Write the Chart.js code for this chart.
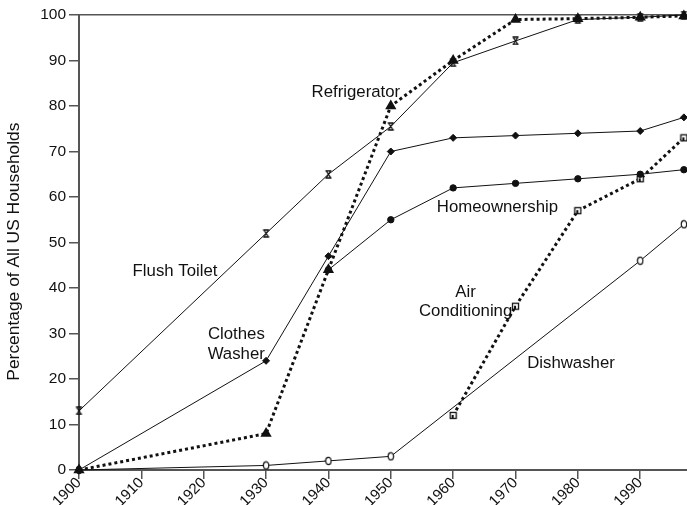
<!DOCTYPE html>
<html><head><meta charset="utf-8">
<script src="https://cdn.jsdelivr.net/npm/chart.js@4.4.0/dist/chart.umd.min.js"></script>
<style>html,body{margin:0;padding:0;background:#fff;}</style>
</head><body>
<canvas id="c" width="687" height="505"></canvas>
<script>
// ---- data ----
const xTickLabels = ['1900','1910','1920','1930','1940','1950','1960','1970','1980','1990'];
const yTitle = 'Percentage of All US Households';

const toiletYears  = [1900,1930,1940,1950,1960,1970,1980,1990,1997];
const toiletValues = [13,52,65,75.5,89.5,94.3,99,99.5,100];

const fridgeYears  = [1900,1930,1940,1950,1960,1970,1980,1990,1997];
const fridgeValues = [0,8,44,80,90,99,99.2,99.5,99.8];

const washerYears  = [1900,1930,1940,1950,1960,1970,1980,1990,1997];
const washerValues = [0,24,47,70,73,73.5,74,74.5,77.5];

const homeYears    = [1940,1950,1960,1970,1980,1990,1997];
const homeValues   = [44,55,62,63,64,65,66];

const acYears      = [1960,1970,1980,1990,1997];
const acValues     = [12,36,57,64,73];

const dishYears    = [1900,1930,1940,1950,1990,1997];
const dishValues   = [0,1,2,3,46,54];

const labelTexts  = ['Refrigerator','Flush Toilet','Clothes','Washer','Homeownership','Air','Conditioning','Dishwasher'];
const labelYears  = [1944.4,1915.4,1929.8,1929.8,1967.1,1962.0,1962.0,1978.9];
const labelValues = [83.1,43.6,29.9,25.5,57.8,39.0,34.9,23.4];
const labelAlign  = ['center','center','right','right','center','center','center','center'];

// ---- marker images ----
const INK = '#111';
const FONT = '"Liberation Sans", Arial, sans-serif';
function mk(w,h,draw){const c=document.createElement('canvas');c.width=w;c.height=h;const g=c.getContext('2d');draw(g);return c;}
const hourglass = mk(9,9,g=>{g.strokeStyle=INK;g.lineWidth=1.3;g.beginPath();
  g.moveTo(1.5,1);g.lineTo(7.5,1);g.moveTo(1.5,8);g.lineTo(7.5,8);
  g.moveTo(2.5,1.5);g.lineTo(6.5,7.5);g.moveTo(6.5,1.5);g.lineTo(2.5,7.5);g.stroke();});
const openSquare = mk(9,9,g=>{g.fillStyle='#fff';g.fillRect(1,1,7,7);g.strokeStyle=INK;g.lineWidth=1.3;g.strokeRect(1.5,1.5,6,6);
  g.fillStyle=INK;g.fillRect(3,4,2,3);});
const openOval = mk(8,10,g=>{g.fillStyle='#fff';g.strokeStyle=INK;g.lineWidth=1.2;g.beginPath();g.ellipse(4,5,2.7,3.6,0,0,Math.PI*2);g.fill();g.stroke();});

function pts(xs,ys){return xs.map((x,i)=>({x:x,y:ys[i]}));}

const solid = {borderColor:INK,borderWidth:1,backgroundColor:INK,pointBorderColor:INK,pointBackgroundColor:INK,clip:false,tension:0};
const dotted = {borderColor:INK,borderWidth:3,borderDash:[3,3],borderCapStyle:'butt',backgroundColor:INK,pointBorderColor:INK,pointBackgroundColor:INK,clip:false,tension:0};

const labelPlugin = {
  id:'labels',
  afterDatasetsDraw(chart){
    const {ctx,scales:{x,y}} = chart;
    ctx.save();
    ctx.font = '16.8px ' + FONT;
    ctx.fillStyle = INK;
    ctx.textBaseline = 'middle';
    labelTexts.forEach((t,i)=>{
      ctx.textAlign = labelAlign[i];
      ctx.fillText(t, x.getPixelForValue(labelYears[i]), y.getPixelForValue(labelValues[i]));
    });
    // y axis title
    ctx.translate(14, y.getPixelForValue(48));
    ctx.rotate(-Math.PI/2);
    ctx.textAlign = 'center';
    ctx.font = '17.4px ' + FONT;
    ctx.fillText(yTitle, 0, 0);
    ctx.restore();
  }
};

new Chart(document.getElementById('c'),{
  type:'line',
  data:{datasets:[
    Object.assign({label:'Flush Toilet',data:pts(toiletYears,toiletValues),pointStyle:hourglass,pointRadius:4},solid),
    Object.assign({label:'Refrigerator',data:pts(fridgeYears,fridgeValues),pointStyle:'triangle',pointRadius:3.5},dotted),
    Object.assign({label:'Clothes Washer',data:pts(washerYears,washerValues),pointStyle:'rectRot',pointRadius:3.5},solid),
    Object.assign({label:'Homeownership',data:pts(homeYears,homeValues),pointStyle:'circle',pointRadius:3.2},solid),
    Object.assign({label:'Air Conditioning',data:pts(acYears,acValues),pointStyle:openSquare,pointRadius:4},dotted),
    Object.assign({label:'Dishwasher',data:pts(dishYears,dishValues),pointStyle:openOval,pointRadius:4},solid)
  ]},
  options:{
    responsive:false,
    devicePixelRatio:1,
    animation:false,
    layout:{autoPadding:false,padding:{top:15,right:0,left:0,bottom:0}},
    plugins:{legend:{display:false},tooltip:{enabled:false}},
    scales:{
      x:{
        type:'linear',min:1900,max:1997.5,
        border:{color:'#555',width:2},
        grid:{drawOnChartArea:false,tickLength:9,tickColor:'#555',lineWidth:1.5},
        ticks:{stepSize:10,includeBounds:false,minRotation:45,maxRotation:45,padding:-5,color:'#111',
          font:{family:FONT,size:15},
          callback:(v)=>{const s=String(v);return xTickLabels.includes(s)?s:'';}},
        afterFit:(s)=>{s.height=35;s.paddingRight=0;s.paddingLeft=0;}
      },
      y:{
        min:0,max:100,
        border:{color:'#555',width:2},
        grid:{drawOnChartArea:true,tickLength:10,tickColor:'#555',lineWidth:1.5,
          color:(c)=>c.tick && c.tick.value===100 ? '#555' : 'rgba(0,0,0,0)'},
        ticks:{stepSize:10,padding:3,color:'#111',font:{family:FONT,size:15.5}},
        title:{display:false},
        afterFit:(s)=>{s.width=79;}
      }
    }
  },
  plugins:[labelPlugin]
});
</script>
</body></html>
